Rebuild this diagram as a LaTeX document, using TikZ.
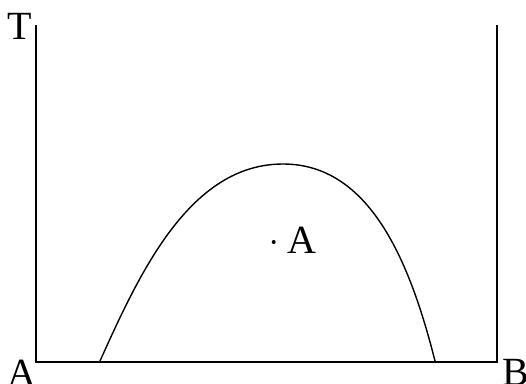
\documentclass[tikz,border=0pt]{standalone}
\usepackage{fontspec}
\setmainfont{Liberation Serif}
\begin{document}
\begin{tikzpicture}[x=1pt,y=-1pt,
  axis/.style={line width=1.8pt,line cap=rect},
  curve/.style={line width=1.4pt},
  lbl/.style={inner sep=0pt,anchor=base west,font=\fontsize{40}{44}\selectfont}]
\useasboundingbox (0,0) rectangle (526,383);
\coordinate (tl) at (36,26);
\coordinate (bl) at (36,361.7);
\coordinate (br) at (497,361.7);
\coordinate (tr) at (497,26);
\draw[axis] (tl) -- (bl) -- (br) -- (tr);
\coordinate (c0) at (100,361);
\coordinate (c1) at (283,164);
\coordinate (c2) at (435,361);
\draw[curve] (c0) .. controls (140,272) and (190,164) .. (c1)
  .. controls (370,164) and (410,262) .. (c2);
\node[lbl] (T) at (7.5,39) {T};
\node[lbl] (LA) at (7.5,386) {A};
\node[lbl] (LB) at (502,385) {B};
\fill (273.7,242) circle (2pt) coordinate (dot);
\node[lbl] (PA) at (287.5,253.5) {A};
\end{tikzpicture}
\end{document}
